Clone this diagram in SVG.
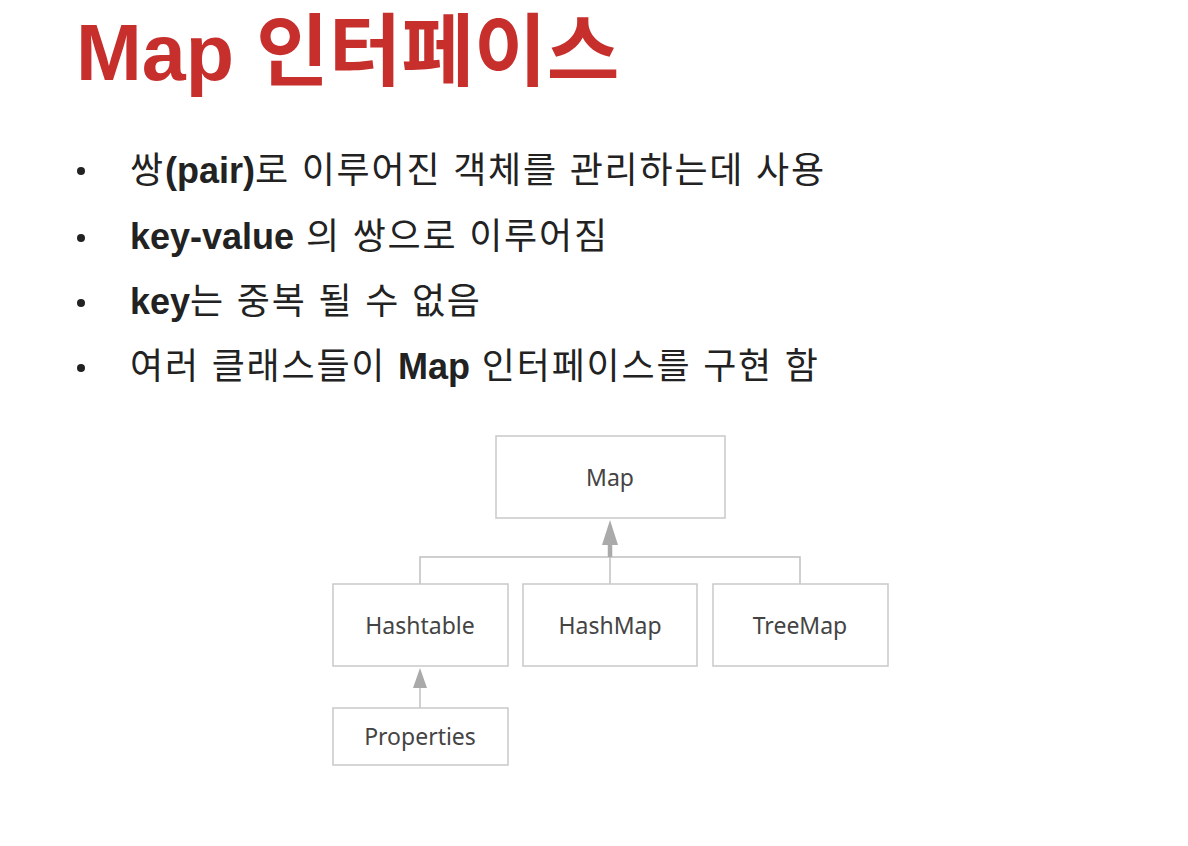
<svg xmlns="http://www.w3.org/2000/svg" width="1188" height="846" viewBox="0 0 1188 846">
<style>
.title{font-family:"Liberation Sans","Noto Sans CJK KR",sans-serif;font-weight:bold;font-size:79px;fill:#C62F2C}
.body{font-family:"Liberation Sans","Noto Sans CJK KR",sans-serif;font-size:36px;fill:#222;letter-spacing:1.8px}
.b{font-weight:bold;letter-spacing:0}
.box{fill:#fff;stroke:#c9c9c9;stroke-width:1.5}
.lbl{font-family:"Noto Sans","Noto Sans CJK KR",sans-serif;font-size:23px;fill:#444;text-anchor:middle}
.ln{stroke:#c0c0c0;stroke-width:1.5;fill:none}
.head{fill:#aaaaaa}
</style>
<rect width="1188" height="846" fill="#fff"/>
<text class="title" x="76" y="80">Map 인터페이스</text>
<g id="bullets" fill="#222">
<circle cx="81" cy="171" r="4"/>
<circle cx="81" cy="238" r="4"/>
<circle cx="81" cy="303" r="4"/>
<circle cx="81" cy="368" r="4"/>
</g>
<text class="body" x="130" y="183">쌍<tspan class="b">(pair)</tspan>로 이루어진 객체를 관리하는데 사용</text>
<text class="body" x="130" y="249"><tspan class="b">key-value</tspan> 의 쌍으로 이루어짐</text>
<text class="body" x="130" y="314"><tspan class="b">key</tspan>는 중복 될 수 없음</text>
<text class="body" x="130" y="379">여러 클래스들이 <tspan class="b">Map</tspan> 인터페이스를 구현 함</text>
<g id="connectors">
<polyline class="ln" points="420,584 420,557 800,557 800,584"/>
<line class="ln" x1="610" y1="584" x2="610" y2="557"/>
<line x1="610" y1="557" x2="610" y2="543" stroke="#aaaaaa" stroke-width="4.5"/>
<polygon class="head" points="610,520 618,545 602,545"/>
<line class="ln" x1="420" y1="708" x2="420" y2="686"/>
<polygon class="head" points="420,668 427,688 413,688"/>
</g>
<g id="Map"><rect class="box" x="496" y="436" width="229" height="82"/><text class="lbl" x="610" y="486">Map</text></g>
<g id="Hashtable"><rect class="box" x="333" y="584" width="175" height="82"/><text class="lbl" x="420" y="634">Hashtable</text></g>
<g id="HashMap"><rect class="box" x="523" y="584" width="174" height="82"/><text class="lbl" x="610" y="634">HashMap</text></g>
<g id="TreeMap"><rect class="box" x="713" y="584" width="175" height="82"/><text class="lbl" x="800" y="634">TreeMap</text></g>
<g id="Properties"><rect class="box" x="333" y="708" width="175" height="57"/><text class="lbl" x="420" y="745">Properties</text></g>
</svg>
